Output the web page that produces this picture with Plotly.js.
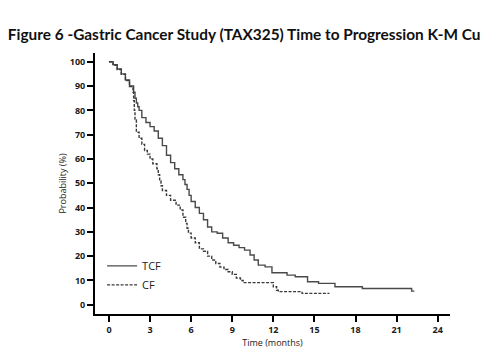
<!DOCTYPE html>
<html>
<head>
<meta charset="utf-8">
<script src="https://cdn.plot.ly/plotly-3.0.1.min.js"></script>
<style>html,body{margin:0;padding:0;background:#fff;}#chart{width:492px;height:364px;}</style>
</head>
<body>
<div id="chart"></div>
<script>
// Time to progression, Kaplan-Meier estimates (months, % probability)
const tcfTime = [0, 0.3, 0.6, 0.9, 1.2, 1.5, 1.8, 1.9, 2.0, 2.1, 2.2, 2.4, 2.7, 3.0, 3.3, 3.6, 3.9, 4.2, 4.5, 4.8, 5.1, 5.4, 5.55, 5.7, 5.85, 6.0, 6.3, 6.6, 6.9, 7.2, 7.5, 7.9, 8.3, 8.7, 9.1, 9.5, 9.9, 10.3, 10.6, 10.9, 11.4, 11.9, 13.0, 13.6, 14.5, 15.3, 16.5, 18.5, 22.1, 22.3];
const tcfProb = [100, 98.8, 97, 95, 92.5, 90, 87.5, 85, 83, 81.5, 80, 77, 75, 73.3, 71.5, 68.5, 65.5, 61.5, 58.5, 56, 53.5, 51.5, 49.5, 47.5, 45, 42.5, 40, 37.6, 35, 32, 30, 29.4, 27.5, 25.5, 24.5, 23.5, 22.5, 20.5, 18.4, 16.3, 15.6, 13.2, 12.2, 11.5, 9.5, 8.8, 7.4, 6.7, 5.6, 5.6];
const cfTime = [0, 0.3, 0.6, 0.9, 1.2, 1.5, 1.75, 1.8, 1.85, 1.9, 2.0, 2.2, 2.4, 2.6, 2.8, 3.0, 3.2, 3.5, 3.6, 3.7, 3.8, 3.9, 4.2, 4.5, 4.9, 5.2, 5.4, 5.6, 5.7, 5.8, 6.0, 6.3, 6.6, 6.9, 7.2, 7.5, 7.8, 8.1, 8.4, 8.7, 9.0, 9.3, 9.6, 9.8, 12.0, 12.24, 12.36, 14.1, 16.1];
const cfProb = [100, 98.5, 96.8, 94.8, 92.3, 89.8, 87.5, 84, 80, 76, 71, 68.5, 66, 63.5, 62, 60, 58, 56, 53.5, 51, 49, 47, 45, 43, 41, 39, 36, 33.5, 31.5, 29.5, 27.5, 25.5, 23, 22, 20, 18.4, 17, 15.5, 14.5, 13.6, 12.5, 11, 10, 9.1, 7.4, 6.0, 5.4, 4.7, 4.7];
const seriesNames = ["TCF", "CF"];
const xTicks = [0, 3, 6, 9, 12, 15, 18, 21, 24];
const yTicks = [0, 10, 20, 30, 40, 50, 60, 70, 80, 90, 100];

const traces = [
  {x: tcfTime, y: tcfProb, name: seriesNames[0], mode: "lines", line: {shape: "hv", color: "#4a4a4a", width: 1.4}},
  {x: cfTime, y: cfProb, name: seriesNames[1], mode: "lines", line: {shape: "hv", color: "#3a3a3a", width: 1.4, dash: "3px,1.5px"}}
];

const tickFont = {family: "Open Sans, sans-serif", size: 9, color: "#1a1a1a", weight: "bold"};
const layout = {
  width: 492, height: 364,
  margin: {l: 95, r: 42, t: 53, b: 50},
  paper_bgcolor: "#fff", plot_bgcolor: "#fff",
  showlegend: true,
  title: {
    text: "Figure 6 -Gastric Cancer Study (TAX325) Time to Progression K-M Cu",
    font: {family: "Lato, sans-serif", size: 15.4, color: "#111", weight: "bold"},
    xref: "container", x: 0.016, xanchor: "left",
    yref: "container", y: 0.904, yanchor: "middle"
  },
  xaxis: {
    range: [-1.02, 24.9], tickvals: xTicks, ticktext: xTicks.map(String),
    showgrid: false, zeroline: false, showline: true, linecolor: "#000", linewidth: 2,
    ticks: "outside", ticklen: 6, tickwidth: 2, tickcolor: "#000",
    tickfont: tickFont,
    title: {text: "Time (months)", font: {family: "Open Sans, sans-serif", size: 9, color: "#222"}, standoff: 3}
  },
  yaxis: {
    range: [-3.8, 103.6], tickvals: yTicks, ticktext: yTicks.map(String),
    showgrid: false, zeroline: false, showline: true, linecolor: "#000", linewidth: 2,
    ticks: "outside", ticklen: 6, tickwidth: 2, tickcolor: "#000",
    tickfont: tickFont,
    title: {text: "Probability (%)", font: {family: "Open Sans, sans-serif", size: 9, color: "#222"}, standoff: 2}
  },
  legend: {
    x: 0.02, y: 0.24, xanchor: "left", yanchor: "top",
    bgcolor: "rgba(0,0,0,0)", borderwidth: 0,
    font: {family: "Open Sans, sans-serif", size: 11, color: "#222"},
    tracegroupgap: 0
  }
};
Plotly.newPlot("chart", traces, layout, {displayModeBar: false, staticPlot: true});
</script>
</body>
</html>
